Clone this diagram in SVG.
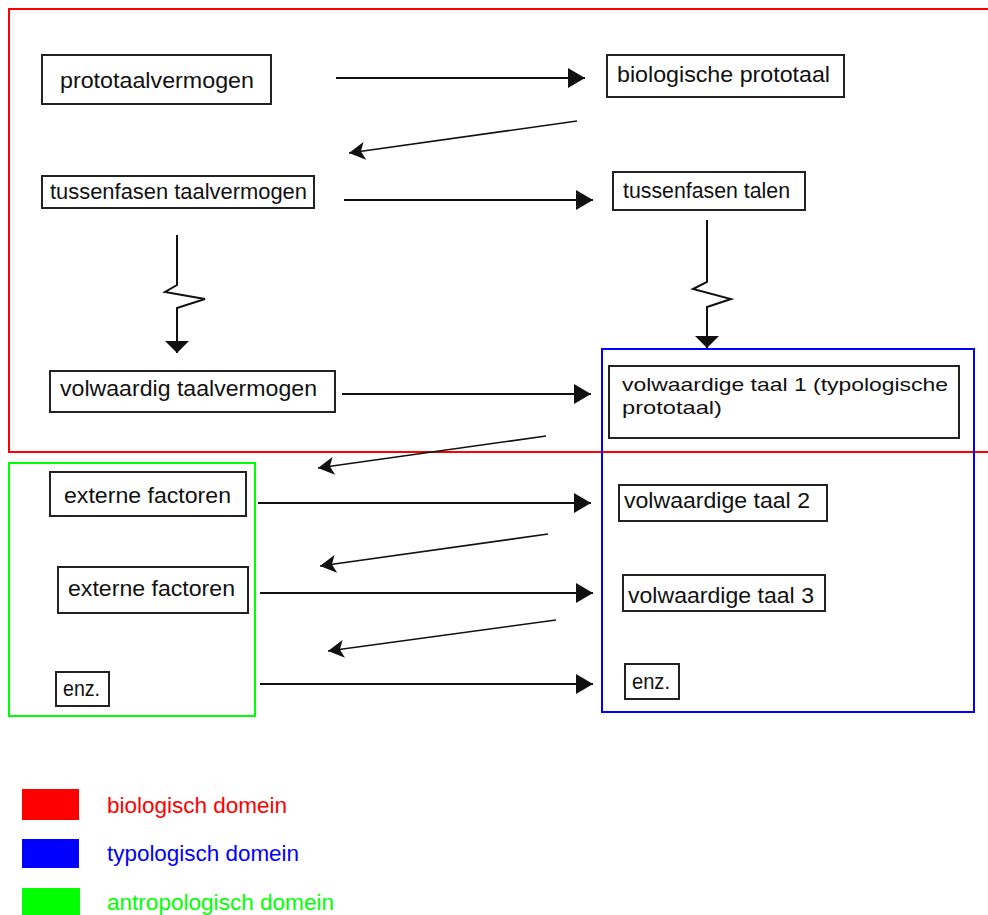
<svg xmlns="http://www.w3.org/2000/svg" width="988" height="915" viewBox="0 0 988 915">
<style>
.bg{fill:#ffffff}
.box{fill:#ffffff;stroke:#222222;stroke-width:2}
.t{font-family:"Liberation Sans",Arial,sans-serif;font-size:22px;fill:#111111}
.t2{font-size:19px}
.con{fill:none;stroke:#111111;stroke-width:2}
.dia{fill:none;stroke:#111111;stroke-width:1.6}
.dom{fill:none;stroke-width:2}
</style>
<defs>
<marker id="ah" markerUnits="userSpaceOnUse" markerWidth="18" markerHeight="22" refX="17" refY="11" orient="auto" viewBox="0 0 18 22">
<path d="M0,1 L17,11 L0,21 z" fill="#111111"/>
</marker>
<marker id="av" markerUnits="userSpaceOnUse" markerWidth="13" markerHeight="26" refX="12" refY="13" orient="auto" viewBox="0 0 13 26">
<path d="M0,1 L12,13 L0,25 z" fill="#111111"/>
</marker>
<marker id="ad" markerUnits="userSpaceOnUse" markerWidth="17" markerHeight="18" refX="16" refY="9" orient="auto" viewBox="0 0 17 18">
<path d="M0,0 L16,9 L0,18 L4,9 z" fill="#111111"/>
</marker>
</defs>
<rect class="bg" x="0" y="0" width="988" height="915"/>

<g id="domains">
<rect class="dom" x="9" y="9" width="990" height="443" stroke="#ff0000"/>
<rect class="dom" x="9" y="463" width="246" height="253" stroke="#00ff00"/>
<rect class="dom" x="602" y="349" width="372" height="363" stroke="#0000ff"/>
</g>

<g id="connectors">
<line class="con" x1="336" y1="78" x2="585" y2="78" marker-end="url(#ah)"/>
<line class="con" x1="344" y1="200" x2="593" y2="200" marker-end="url(#ah)"/>
<line class="con" x1="342" y1="394" x2="591" y2="394" marker-end="url(#ah)"/>
<line class="con" x1="258" y1="503" x2="591" y2="503" marker-end="url(#ah)"/>
<line class="con" x1="260" y1="593" x2="593" y2="593" marker-end="url(#ah)"/>
<line class="con" x1="260" y1="684" x2="593" y2="684" marker-end="url(#ah)"/>
<line class="dia" x1="577" y1="121" x2="349" y2="153" marker-end="url(#ad)"/>
<line class="dia" x1="546" y1="436" x2="318" y2="468" marker-end="url(#ad)"/>
<line class="dia" x1="548" y1="534" x2="320" y2="566" marker-end="url(#ad)"/>
<line class="dia" x1="556" y1="620" x2="328" y2="651" marker-end="url(#ad)"/>
<polyline class="con" points="177,235 177,285 165,292 205,299 177,308 177,353" marker-end="url(#av)"/>
<polyline class="con" points="707,220 707,282 693,289 731,299 707,307 707,348" marker-end="url(#av)"/>
</g>

<g id="n-prototaalvermogen">
<rect class="box" x="42" y="55" width="229" height="49"/>
<text class="t" x="60" y="88" textLength="194" lengthAdjust="spacingAndGlyphs">prototaalvermogen</text>
</g>
<g id="n-biologische-prototaal">
<rect class="box" x="607" y="55" width="237" height="42"/>
<text class="t" x="617" y="82" textLength="213" lengthAdjust="spacingAndGlyphs">biologische prototaal</text>
</g>
<g id="n-tussenfasen-taalvermogen">
<rect class="box" x="42" y="176" width="272" height="32"/>
<text class="t" x="50" y="199" textLength="257" lengthAdjust="spacingAndGlyphs">tussenfasen taalvermogen</text>
</g>
<g id="n-tussenfasen-talen">
<rect class="box" x="613" y="172" width="192" height="38"/>
<text class="t" x="623" y="198" textLength="167" lengthAdjust="spacingAndGlyphs">tussenfasen talen</text>
</g>
<g id="n-volwaardig-taalvermogen">
<rect class="box" x="50" y="371" width="285" height="41"/>
<text class="t" x="60" y="396" textLength="257" lengthAdjust="spacingAndGlyphs">volwaardig taalvermogen</text>
</g>
<g id="n-volwaardige-taal-1">
<rect class="box" x="609" y="366" width="350" height="72"/>
<text class="t t2" x="622" y="391" textLength="326" lengthAdjust="spacingAndGlyphs">volwaardige taal 1 (typologische</text>
<text class="t t2" x="622" y="414" textLength="100" lengthAdjust="spacingAndGlyphs">prototaal)</text>
</g>
<g id="n-externe-factoren-1">
<rect class="box" x="50" y="472" width="196" height="44"/>
<text class="t" x="64" y="503" textLength="167" lengthAdjust="spacingAndGlyphs">externe factoren</text>
</g>
<g id="n-externe-factoren-2">
<rect class="box" x="58" y="567" width="190" height="46"/>
<text class="t" x="68" y="596" textLength="167" lengthAdjust="spacingAndGlyphs">externe factoren</text>
</g>
<g id="n-enz-left">
<rect class="box" x="56" y="672" width="53" height="34"/>
<text class="t" x="63" y="696" textLength="37" lengthAdjust="spacingAndGlyphs">enz.</text>
</g>
<g id="n-volwaardige-taal-2">
<rect class="box" x="619" y="485" width="208" height="36"/>
<text class="t" x="624" y="508" textLength="186" lengthAdjust="spacingAndGlyphs">volwaardige taal 2</text>
</g>
<g id="n-volwaardige-taal-3">
<rect class="box" x="623" y="575" width="202" height="36"/>
<text class="t" x="628" y="603" textLength="186" lengthAdjust="spacingAndGlyphs">volwaardige taal 3</text>
</g>
<g id="n-enz-right">
<rect class="box" x="625" y="664" width="54" height="35"/>
<text class="t" x="632" y="689" textLength="38" lengthAdjust="spacingAndGlyphs">enz.</text>
</g>

<g id="legend">
<rect x="22" y="789" width="57" height="31" fill="#ff0000"/>
<rect x="22" y="839" width="57" height="29" fill="#0000ff"/>
<rect x="22" y="888" width="58" height="27" fill="#00ff00"/>
<text class="t" x="107" y="813" textLength="180" lengthAdjust="spacingAndGlyphs" style="fill:#ff0000">biologisch domein</text>
<text class="t" x="107" y="861" textLength="192" lengthAdjust="spacingAndGlyphs" style="fill:#0000ff">typologisch domein</text>
<text class="t" x="107" y="910" textLength="227" lengthAdjust="spacingAndGlyphs" style="fill:#00ff00">antropologisch domein</text>
</g>
</svg>
